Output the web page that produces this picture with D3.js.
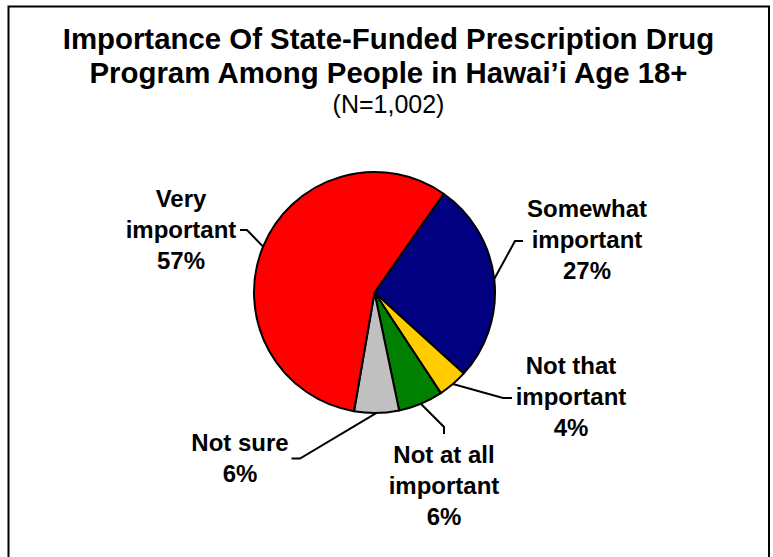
<!DOCTYPE html>
<html>
<head>
<meta charset="utf-8">
<script src="https://cdn.jsdelivr.net/npm/d3@7"></script>
<style>
  html, body { margin: 0; padding: 0; background: #fff; }
  svg { display: block; }
  text { font-family: Arial, "Liberation Sans", Helvetica, sans-serif; fill: #000; }
</style>
</head>
<body>
<svg id="chart" width="773" height="557"></svg>
<script>
// Survey responses, in clockwise drawing order
const categories = ["Somewhat important", "Not that important", "Not at all important", "Not sure", "Very important"];
const percents = [27, 4, 6, 6, 57];
const sliceColors = ["#000080", "#FFCC00", "#008000", "#C0C0C0", "#FF0000"];
const labelLines = [
  ["Somewhat", "important"],
  ["Not that", "important"],
  ["Not at all", "important"],
  ["Not sure"],
  ["Very", "important"]
];

const titleLines = ["Importance Of State-Funded Prescription Drug", "Program Among People in Hawai\u2019i Age 18+"];
const subtitle = "(N=1,002)";

const W = 773, H = 557;
const svg = d3.select("#chart");

// outer frame
svg.append("rect")
  .attr("x", 8.5).attr("y", 6.5)
  .attr("width", 760.5).attr("height", 600)
  .attr("fill", "none").attr("stroke", "#000").attr("stroke-width", 2);

// title block
const cx0 = 388.5;
svg.append("text").attr("x", cx0).attr("y", 48.5).attr("text-anchor", "middle")
  .style("font-size", "29.4px").style("font-weight", "bold").text(titleLines[0]);
svg.append("text").attr("x", cx0).attr("y", 83).attr("text-anchor", "middle")
  .style("font-size", "29.4px").style("font-weight", "bold").text(titleLines[1]);
svg.append("text").attr("x", cx0).attr("y", 112.5).attr("text-anchor", "middle")
  .style("font-size", "25px").text(subtitle);

// pie geometry
const center = { x: 374.5, y: 292.5 };
const radius = 120.5;
const startDeg = 35;

const data = categories.map((c, i) => ({ name: c, value: percents[i], color: sliceColors[i], lines: labelLines[i] }));

const pie = d3.pie()
  .value(d => d.value)
  .sort(null)
  .startAngle(startDeg * Math.PI / 180)
  .endAngle((startDeg + 360) * Math.PI / 180);

const arc = d3.arc().innerRadius(0).outerRadius(radius);
const arcs = pie(data);

const g = svg.append("g").attr("transform", `translate(${center.x},${center.y})`);

g.selectAll("path.slice")
  .data(arcs)
  .join("path")
  .attr("class", "slice")
  .attr("d", arc)
  .attr("fill", d => d.data.color)
  .attr("stroke", "#000")
  .attr("stroke-width", 2)
  .attr("stroke-linejoin", "round");

// label placement: text centre, first baseline, elbow and end of leader
const labelLayout = {
  "Somewhat important":   { x: 587, y: 217, elbow: [515, 241], end: [523, 241] },
  "Not that important":   { x: 571, y: 374, elbow: [503, 398], end: [512, 398] },
  "Not at all important": { x: 444, y: 462.5, elbow: [444, 427], end: [444, 434] },
  "Not sure":             { x: 240, y: 451, elbow: [300, 458.5], end: [291.5, 458.5] },
  "Very important":       { x: 181, y: 207, elbow: [247, 230], end: [240, 230] }
};
const lineGap = 31;

arcs.forEach(a => {
  const lay = labelLayout[a.data.name];
  const mid = (a.startAngle + a.endAngle) / 2;
  const p0 = [center.x + radius * Math.sin(mid), center.y - radius * Math.cos(mid)];

  svg.append("path")
    .attr("d", d3.line()([p0, lay.elbow, lay.end]))
    .attr("fill", "none")
    .attr("stroke", "#000")
    .attr("stroke-width", 2);

  const t = svg.append("text")
    .attr("text-anchor", "middle")
    .style("font-size", "24px")
    .style("font-weight", "bold");
  const lines = a.data.lines.concat([a.data.value + "%"]);
  lines.forEach((ln, i) => {
    t.append("tspan").attr("x", lay.x).attr("y", lay.y + i * lineGap).text(ln);
  });
});
</script>
</body>
</html>
